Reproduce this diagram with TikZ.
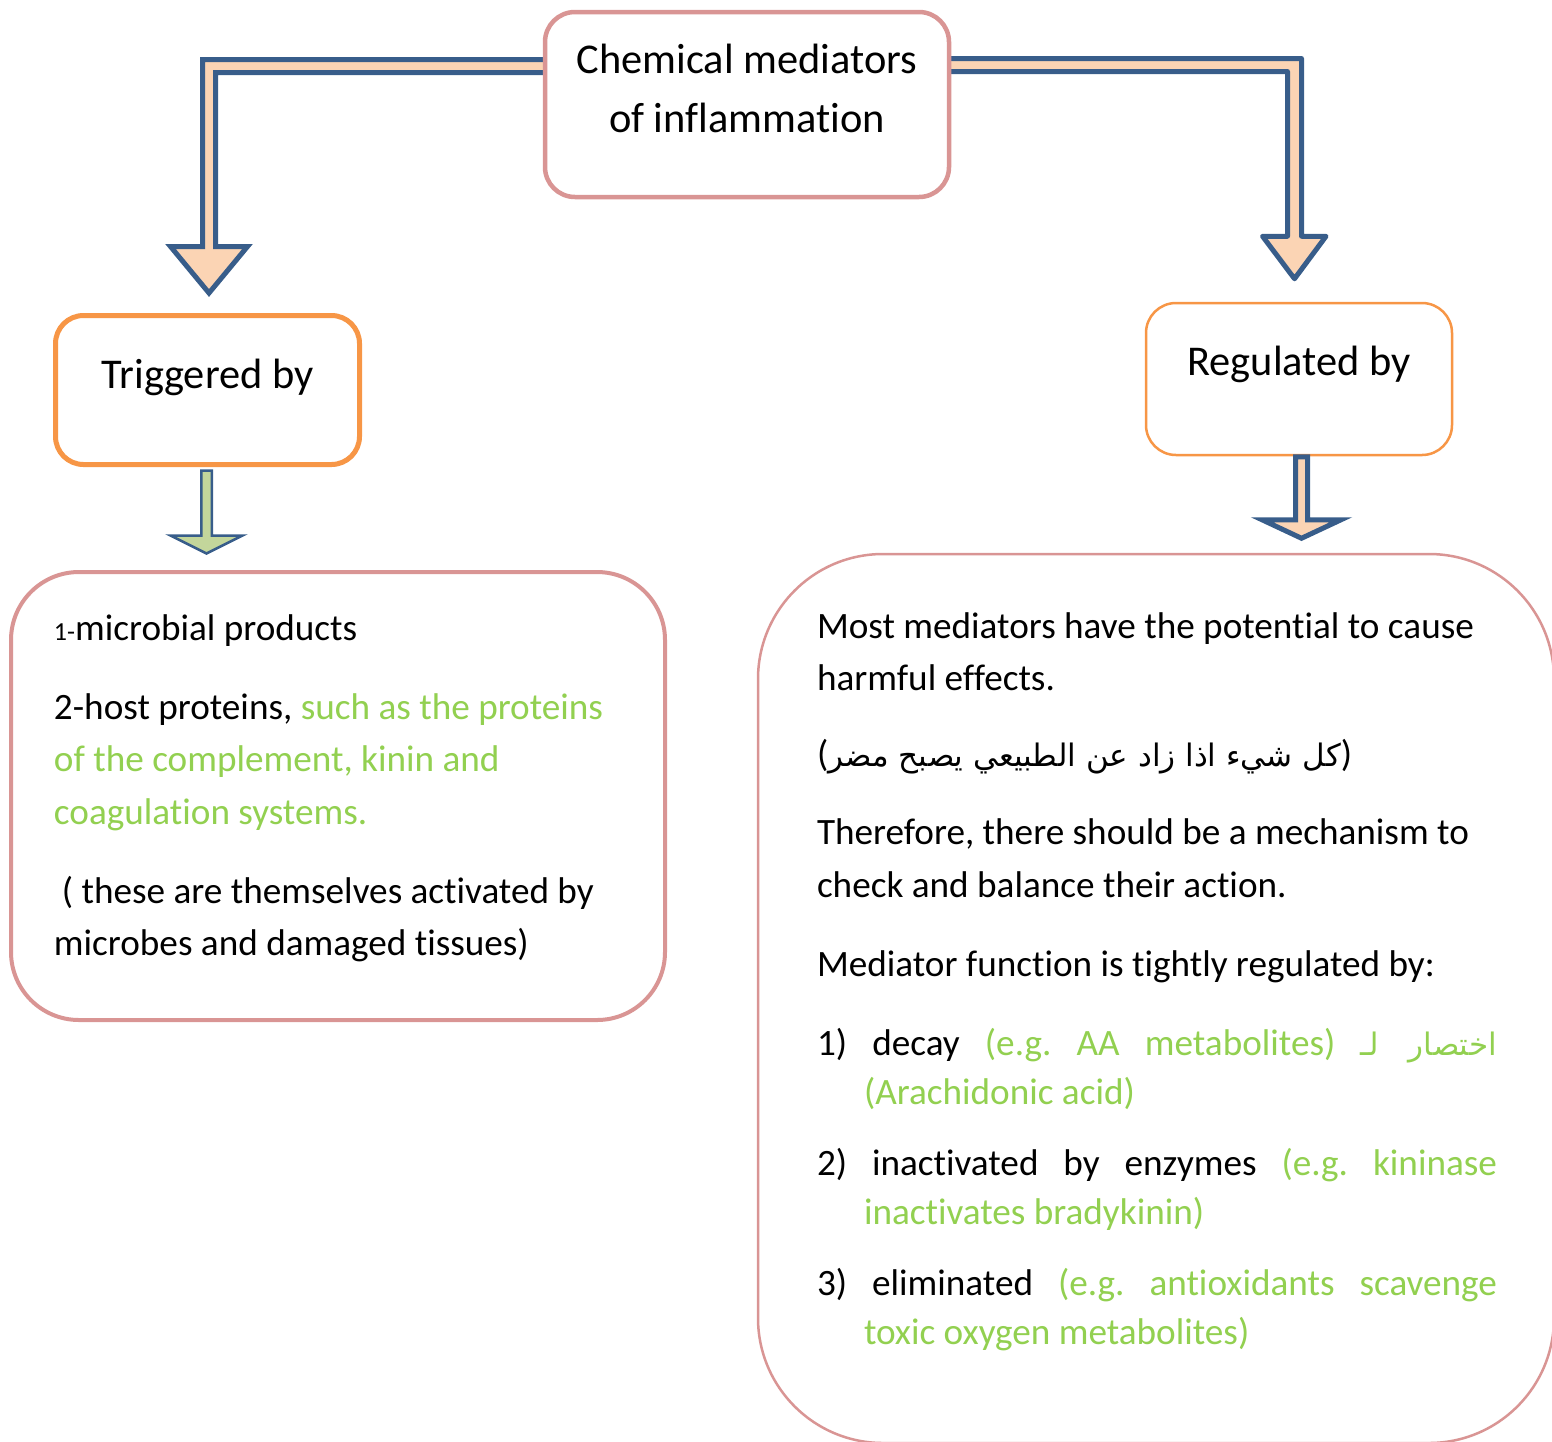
\documentclass[tikz,border=0pt]{standalone}
\usepackage{fontspec}
\setmainfont{Carlito}[Ligatures=CommonOff]
\newfontfamily\arabicfont[Script=Arabic]{DejaVu Sans}
\TeXXeTstate=1
\usetikzlibrary{calc}
\definecolor{boxpink}{HTML}{D99594}
\definecolor{boxorange}{HTML}{F79646}
\definecolor{arrowblue}{HTML}{385D8A}
\definecolor{arrowpeach}{HTML}{FBD4B4}
\definecolor{arrowgreen}{HTML}{C3D69B}
\definecolor{notegreen}{HTML}{92D050}
\pgfdeclarelayer{bg}
\pgfsetlayers{bg,main}
\newcommand\bodyfont{\fontsize{37.2}{52.5}\selectfont}
\newcommand\headfont{\fontsize{42.4}{59.4}\selectfont}
\newcommand\arfont{\arabicfont\fontsize{31}{52.5}\selectfont}
\newcommand\note[1]{{\color{notegreen}#1}}
\frenchspacing
\begin{document}
\begin{tikzpicture}[x=1pt, y=-1pt,
  box/.style = {draw, fill=white, inner sep=0pt},
  tagbox/.style = {box, draw=boxorange, rounded corners=28pt, font=\headfont},
  bigarrow/.style = {draw=arrowblue, fill=arrowpeach, line width=5pt},
  thinarrow/.style = {draw=arrowblue, fill=arrowgreen, line width=2.5pt}]
\useasboundingbox (0,0) rectangle (1552,1441);
% boxes
\node[box, draw=boxpink, line width=4.5pt, rounded corners=30pt] (title) at (747,104.5)
  {\parbox[c][185pt][t]{404pt}{\centering\headfont\rule{0pt}{61pt}Chemical mediators\\of inflammation}};
\node[tagbox, line width=5pt, minimum width=304pt, text height=72.5pt, text depth=76.5pt] (trig) at (207.5,390) {Triggered by};
\node[tagbox, line width=2.5pt, rounded corners=30pt, minimum width=306pt, text height=72pt, text depth=80pt] (reg) at (1299,379) {Regulated by};
\node[box, draw=boxpink, line width=4pt, rounded corners=68pt] (causes) at (338,796)
  {\parbox[c][448pt][t]{654pt}{\bodyfont\leftskip=43pt\rule{0pt}{68pt}{\fontsize{26}{26}\selectfont 1-}microbial products\\[26.5pt]
   2-host proteins, \note{such as the proteins\\ of the complement, kinin and\\ coagulation systems.}\\[26.5pt]
   \hspace*{8pt}( these are themselves activated by\\ microbes and damaged tissues)}};
\node[box, draw=boxpink, line width=2.5pt, rounded corners=125pt] (control) at (1156,998.5)
  {\parbox[c][889pt][t]{796pt}{\bodyfont\leftskip=59pt\rule{0pt}{84pt}Most mediators have the potential to cause\\ harmful effects.\\[23.5pt]
   ({\arfont\beginR كل شيء اذا زاد عن الطبيعي يصبح مضر\endR})\\[25.5pt]
   Therefore, there should be a mechanism to\\ check and balance their action.\\[26.5pt]
   Mediator function is tightly regulated by:\\[26.5pt]
   \makebox[680pt][s]{1) decay \note{(e.g. AA metabolites) {\arfont\beginR اختصار لـ\endR}}}\\[-3pt]
   \hspace*{47pt}\note{(Arachidonic acid)}\\[18pt]
   \makebox[680pt][s]{2) inactivated by enzymes \note{(e.g. kininase}}\\[-3pt]
   \hspace*{47pt}\note{inactivates bradykinin)}\\[18pt]
   \makebox[680pt][s]{3) eliminated \note{(e.g. antioxidants scavenge}}\\[-3pt]
   \hspace*{47pt}\note{toxic oxygen metabolites)}}};
% arrow tips
\coordinate (lt) at ($(trig.north)+(1.5,-20)$);
\coordinate (rt) at ($(reg.north)+(-4.5,-23)$);
\coordinate (gt) at ($(trig.south)+(-1,86.5)$);
\coordinate (pk) at ($(reg.south)+(2.5,82)$);
% bent arrows behind the title
\begin{pgfonlayer}{bg}
\draw[bigarrow, line join=miter] ($(title.west)+(20,-45)$) -| ($(lt)+(-6.5,-46.5)$) -- ++(-32,0) -- (lt)
  -- ++(38.5,-46.5) -- ++(-32,0) |- ($(title.west)+(20,-32)$) -- cycle;
\draw[bigarrow, line join=round] ($(title.east)+(-20,-46)$) -| ($(rt)+(7,-42.5)$) -- ++(24.5,0) -- (rt)
  -- ++(-32,-42.5) -- ++(25,0) |- ($(title.east)+(-20,-33)$) -- cycle;
\end{pgfonlayer}
% short arrows
\draw[thinarrow] (gt) -- ++(-36,-18) -- ++(30.75,0) -- ++(0,-65) -- ++(10.5,0) -- ++(0,65) -- ++(30.75,0) -- cycle;
\draw[bigarrow] (pk) -- ++(-39.5,-18.5) -- ++(33.5,0) -- ++(0,-63) -- ++(12,0) -- ++(0,63) -- ++(33.5,0) -- cycle;
\end{tikzpicture}
\end{document}
